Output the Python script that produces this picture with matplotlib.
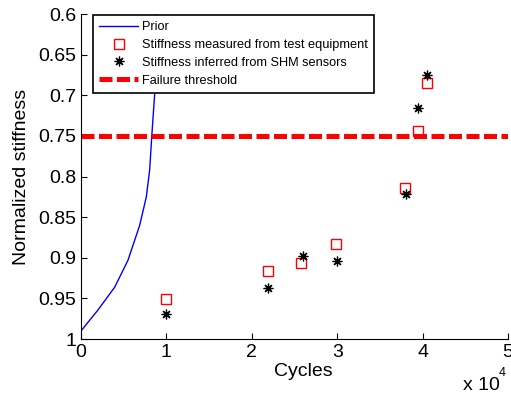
import matplotlib
matplotlib.use("Agg")
import matplotlib.pyplot as plt
import numpy as np

plt.rcParams["font.family"] = ["Liberation Sans", "DejaVu Sans"]

# prior degradation curve (cycles, normalized stiffness)
prior_cycles = [0, 2000, 3950, 5500, 6870, 7650, 8040, 8310, 8630, 8780]
prior_stiff = [0.990, 0.964, 0.936, 0.903, 0.860, 0.825, 0.792, 0.747, 0.698, 0.600]

# test coupons
test_cycles = [10000, 21900, 25800, 29900, 37900, 39500, 40500]
measured = [0.951, 0.916, 0.906, 0.883, 0.814, 0.744, 0.685]

shm_cycles = [10000, 21900, 26000, 30000, 38000, 39500, 40500]
inferred = [0.969, 0.937, 0.898, 0.904, 0.822, 0.716, 0.675]

threshold = 0.75

x_ticks = [0, 1, 2, 3, 4, 5]
y_ticks = [0.6, 0.65, 0.7, 0.75, 0.8, 0.85, 0.9, 0.95, 1.0]
y_ticklabels = ["0.6", "0.65", "0.7", "0.75", "0.8", "0.85", "0.9", "0.95", "1"]

fig = plt.figure(figsize=(5.11, 3.98), dpi=100)
ax = fig.add_axes([0.1585, 0.148, 0.8356, 0.8166])

scale = 1e4
ax.plot(np.array(prior_cycles) / scale, prior_stiff, color="#0000ff", lw=1.0,
        label="Prior")
ax.plot(np.array(test_cycles) / scale, measured, ls="none", marker="s",
        ms=6.5, mfc="none", mec="#ff0000", mew=1.0,
        label="Stiffness measured from test equipment")
ax.plot(np.array(shm_cycles) / scale, inferred, ls="none", marker=(8, 2, 0),
        ms=7, color="black", mew=0.9,
        label="Stiffness inferred from SHM sensors")
ax.axhline(threshold, color="#ff0000", lw=3.6, dashes=(2.6, 0.9),
           label="Failure threshold")

ax.set_xlim(0, 5)
ax.set_ylim(1.0, 0.6)
ax.set_xticks(x_ticks)
ax.set_yticks(y_ticks)
ax.set_yticklabels(y_ticklabels)
ax.tick_params(direction="in", length=4, labelsize=14, width=0.8)
for s in ["top", "right"]:
    ax.spines[s].set_visible(False)
for s in ["left", "bottom"]:
    ax.spines[s].set_linewidth(0.8)

ax.set_xlabel("Cycles", fontsize=14, labelpad=2)
ax.xaxis.set_label_coords(0.52, -0.075)
ax.set_ylabel("Normalized stiffness", fontsize=14, labelpad=6)
# exponent for the x axis, MATLAB style
fig.text(463 / 511, 1 - 386 / 398, "x 10", fontsize=14, ha="left", va="center")
fig.text(499 / 511, 1 - 373 / 398, "4", fontsize=9, ha="left", va="center")

leg = ax.legend(loc="upper left", bbox_to_anchor=(93 / 511, 1 - 15 / 398),
                bbox_transform=fig.transFigure, fontsize=9.2, frameon=True,
                fancybox=False, framealpha=1, edgecolor="black",
                borderpad=0.5, labelspacing=0.45, handlelength=3.0,
                handletextpad=0.35, borderaxespad=0)
leg.get_frame().set_linewidth(1.2)

fig.savefig("out.png", dpi=100)
